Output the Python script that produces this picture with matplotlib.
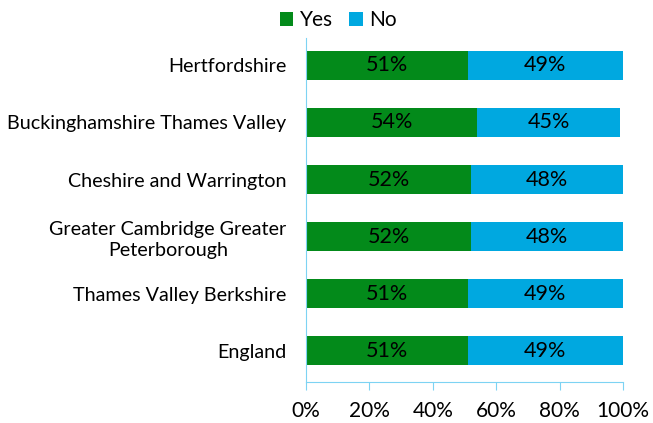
import matplotlib.pyplot as plt
import numpy as np

plt.rcParams['font.family'] = ['Lato', 'DejaVu Sans']

# Data (top to bottom as shown)
areas = ["Hertfordshire", "Buckinghamshire Thames Valley", "Cheshire and Warrington",
         "Greater Cambridge Greater\nPeterborough", "Thames Valley Berkshire", "England"]
yes = [51, 54, 52, 52, 51, 51]
no = [49, 45, 48, 48, 49, 49]

green = "#038A1A"
blue = "#00A8E0"
axis_col = "#7DD3F3"

fig = plt.figure(figsize=(6.53, 4.23), dpi=100)
ax = fig.add_axes([0.4686, 0.0969, 0.4855, 0.8131])

y = np.arange(len(areas))[::-1]
b1 = ax.barh(y, yes, height=0.5, color=green, label="Yes")
b2 = ax.barh(y, no, left=yes, height=0.5, color=blue, label="No")

for i in range(len(areas)):
    ax.text(yes[i] / 2, y[i], f"{yes[i]}%", ha='center', va='center', fontsize=15.5, color='black')
    ax.text(yes[i] + no[i] / 2, y[i], f"{no[i]}%", ha='center', va='center', fontsize=15.5, color='black')

ax.set_xlim(0, 100)
ax.set_ylim(-0.55, 5.48)
ax.set_yticks(y)
ax.set_yticklabels(areas, fontsize=14.2, ha='right', multialignment='center',
                   linespacing=1.25)
ax.tick_params(axis='y', length=0, pad=14)
ax.set_xticks(np.arange(0, 101, 20))
ax.set_xticklabels([f"{v}%" for v in range(0, 101, 20)], fontsize=15)
ax.tick_params(axis='x', length=6, color=axis_col, pad=8)

for s in ['top', 'right']:
    ax.spines[s].set_visible(False)
ax.spines['left'].set_color(axis_col)
ax.spines['bottom'].set_color(axis_col)

fig.legend(handles=[b1, b2], loc='center', bbox_to_anchor=(0.518, 0.953), ncol=2,
           frameon=False, fontsize=15, handlelength=0.65, handleheight=0.65,
           handletextpad=0.3, columnspacing=0.8)

plt.savefig("out.png", dpi=100)
plt.close()
